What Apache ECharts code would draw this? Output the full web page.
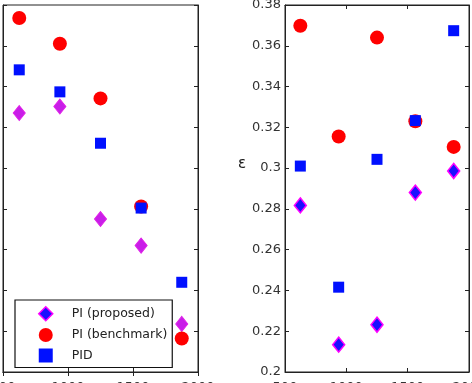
<!DOCTYPE html>
<html>
<head>
<meta charset="utf-8">
<script src="https://cdn.jsdelivr.net/npm/echarts@6/dist/echarts.min.js"></script>
<style>
  html, body { margin: 0; padding: 0; background: #fff; }
  #chart { width: 472px; height: 383px; }
</style>
</head>
<body>
<div id="chart"></div>
<script>
// sample sizes (x) shared by both panels
const xValues = [625, 937.5, 1250, 1562.5, 1875];
const xTicks = [500, 1000, 1500, 2000];

// left panel (y labels are outside the picture, scale 0..9)
const leftProposed = [6.35, 6.51, 3.75, 3.10, 1.18];
const leftBenchmark = [8.68, 8.05, 6.71, 4.06, 0.82];
const leftPID = [7.41, 6.87, 5.61, 4.02, 2.20];

// right panel, epsilon
const rightProposed = [0.2817, 0.2134, 0.2232, 0.2880, 0.2986];
const rightBenchmark = [0.3698, 0.3155, 0.3640, 0.3230, 0.3104];
const rightPID = [0.3010, 0.2416, 0.3043, 0.3233, 0.3674];
const epsTicks = [0.2, 0.38, 0.02];

const names = ['PI (proposed)', 'PI (benchmark)', 'PID'];

const font = 'DejaVu Sans';
const pair = ys => ys.map((y, i) => [xValues[i], y]);

const tickStyle = { inside: true, length: 4, lineStyle: { color: '#222', width: 1 } };
const lineStyle = { lineStyle: { color: '#222', width: 1 } };

function xAx (grid, pos, showLabel) {
  return {
    type: 'value', gridIndex: grid, position: pos,
    min: xTicks[0], max: xTicks[xTicks.length - 1], interval: 500,
    axisLine: Object.assign({ show: true }, lineStyle),
    axisTick: tickStyle,
    splitLine: { show: false },
    axisLabel: {
      show: showLabel, margin: 9, color: '#333', fontFamily: font, fontSize: 13,
      formatter: v => String(v)
    }
  };
}

function yAx (grid, pos, min, max, interval, showLabel) {
  return {
    type: 'value', gridIndex: grid, position: pos,
    min: min, max: max, interval: interval,
    axisLine: Object.assign({ show: true }, lineStyle),
    axisTick: tickStyle,
    splitLine: { show: false },
    axisLabel: {
      show: showLabel, margin: 4, color: '#333', fontFamily: font, fontSize: 13,
      formatter: v => String(+v.toFixed(2))
    }
  };
}

const diamondRight = { color: '#1a10ff', borderColor: '#ff00ff', borderWidth: 1.5, opacity: 1 };
const diamondLeft = { color: '#c81ee8', borderColor: '#e020e8', borderWidth: 1, opacity: 1 };
const circle = { color: '#ff0000', opacity: 1 };
const square = { color: '#0010ff', opacity: 1 };

function sc (name, x, y, data, symbol, size, style) {
  return {
    name: name, type: 'scatter', xAxisIndex: x, yAxisIndex: y,
    data: pair(data), symbol: symbol, symbolSize: size,
    itemStyle: style, z: 3
  };
}

const chart = echarts.init(document.getElementById('chart'));
chart.setOption({
  animation: false,
  backgroundColor: '#fff',
  grid: [
    { left: 3, right: 274, top: 5, bottom: 11, outerBoundsMode: 'none', containLabel: false,
      show: true, borderColor: '#222', borderWidth: 1 },
    { left: 285, right: 3, top: 5, bottom: 11, outerBoundsMode: 'none', containLabel: false,
      show: true, borderColor: '#222', borderWidth: 1 }
  ],
  xAxis: [
    xAx(0, 'bottom', true),
    xAx(1, 'bottom', true),
    xAx(0, 'top', false),
    xAx(1, 'top', false)
  ],
  yAxis: [
    yAx(0, 'left', 0, 9, 1, false),
    yAx(1, 'left', epsTicks[0], epsTicks[1], epsTicks[2], true),
    yAx(0, 'right', 0, 9, 1, false),
    yAx(1, 'right', epsTicks[0], epsTicks[1], epsTicks[2], false)
  ],
  legend: {
    orient: 'vertical',
    left: 15, top: 300,
    padding: [6, 5, 5, 23],
    itemWidth: 14, itemHeight: 14, itemGap: 6.5,
    backgroundColor: '#fff',
    borderColor: '#111', borderWidth: 1.2,
    textStyle: { fontFamily: font, fontSize: 12.5, color: '#222', padding: [0, 0, 0, 14] },
    data: [
      { name: names[0], icon: 'diamond', itemStyle: diamondRight },
      { name: names[1], icon: 'circle', itemStyle: circle },
      { name: names[2], icon: 'rect', itemStyle: square }
    ],
    z: 10
  },
  graphic: [{
    type: 'text', left: 238, top: 157,
    style: { text: 'ε', font: '15px "DejaVu Sans"', fill: '#222' }
  }],
  series: [
    sc(names[0], 0, 0, leftProposed, 'diamond', [12, 15], diamondLeft),
    sc(names[1], 0, 0, leftBenchmark, 'circle', 14, circle),
    sc(names[2], 0, 0, leftPID, 'rect', 11, square),
    sc(names[0], 1, 1, rightProposed, 'diamond', [12, 15], diamondRight),
    sc(names[1], 1, 1, rightBenchmark, 'circle', 14, circle),
    sc(names[2], 1, 1, rightPID, 'rect', 11, square)
  ]
});
</script>
</body>
</html>
